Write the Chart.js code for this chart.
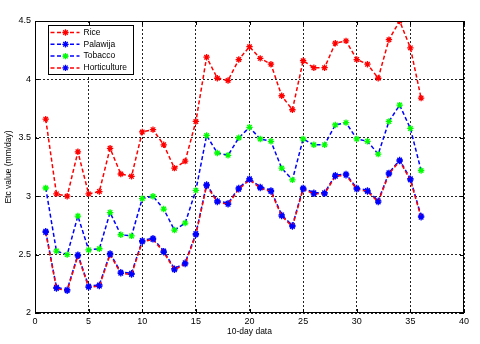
<!DOCTYPE html>
<html>
<head>
<meta charset="utf-8">
<script src="https://cdn.jsdelivr.net/npm/chart.js@4.4.0/dist/chart.umd.min.js"></script>
<style>
  body { margin: 0; background: #fff; }
  canvas { display: block; }
</style>
</head>
<body>
<canvas id="grafico" width="480" height="344"></canvas>
<script>
// Datos (10-day data)
const dias = [1, 2, 3, 4, 5, 6, 7, 8, 9, 10, 11, 12, 13, 14, 15, 16, 17, 18,
              19, 20, 21, 22, 23, 24, 25, 26, 27, 28, 29, 30, 31, 32, 33, 34, 35, 36];

const rice = [3.66, 3.02, 3.00, 3.38, 3.02, 3.04, 3.41, 3.19, 3.17, 3.55, 3.57, 3.44,
              3.24, 3.30, 3.64, 4.19, 4.01, 3.99, 4.17, 4.28, 4.18, 4.13, 3.86, 3.74,
              4.16, 4.10, 4.10, 4.31, 4.33, 4.17, 4.13, 4.01, 4.34, 4.50, 4.27, 3.84];

const palawija = [2.70, 2.22, 2.20, 2.50, 2.23, 2.24, 2.51, 2.35, 2.34, 2.62, 2.64, 2.53,
                  2.38, 2.43, 2.68, 3.10, 2.96, 2.94, 3.07, 3.15, 3.08, 3.05, 2.84, 2.75,
                  3.07, 3.03, 3.03, 3.18, 3.19, 3.07, 3.05, 2.96, 3.20, 3.31, 3.15, 2.83];

const tobacco = [3.07, 2.53, 2.50, 2.83, 2.54, 2.55, 2.86, 2.67, 2.66, 2.98, 3.00, 2.89,
                 2.71, 2.77, 3.05, 3.52, 3.37, 3.35, 3.50, 3.59, 3.49, 3.47, 3.24, 3.14,
                 3.49, 3.44, 3.44, 3.61, 3.63, 3.49, 3.47, 3.36, 3.64, 3.78, 3.58, 3.22];

const horticulture = [2.69, 2.21, 2.19, 2.49, 2.22, 2.23, 2.50, 2.34, 2.33, 2.61, 2.63, 2.52,
                      2.37, 2.42, 2.67, 3.09, 2.95, 2.93, 3.06, 3.14, 3.07, 3.04, 2.83, 2.74,
                      3.06, 3.02, 3.02, 3.17, 3.18, 3.06, 3.04, 2.95, 3.19, 3.30, 3.14, 2.82];

const xTicks = [0, 5, 10, 15, 20, 25, 30, 35, 40];
const yTicks = [2, 2.5, 3, 3.5, 4, 4.5];

const FUENTE = 'Liberation Sans, Arial, sans-serif';

// Series: nombre, valores, color de linea, color de marcador, orden de dibujo
const series = [
    ['Rice', rice, '#ff0000', '#ff0000', 4],
    ['Palawija', palawija, '#0000ff', '#0000ff', 3],
    ['Tobacco', tobacco, '#0000ff', '#00ff00', 2],
    ['Horticulture', horticulture, '#ff0000', '#0000ff', 1]
];

function crearDataset(s) {
    return {
        label: s[0],
        data: dias.map((d, i) => ({ x: d, y: s[1][i] })),
        borderColor: s[2],
        borderWidth: 1.5,
        borderDash: [4, 2.5],
        pointStyle: 'star',
        pointRadius: 3.2,
        pointBorderWidth: 1.3,
        pointBorderColor: s[3],
        pointBackgroundColor: s[3],
        tension: 0,
        fill: false,
        order: s[4]
    };
}

// Marcador tipo asterisco para la leyenda
function dibujarEstrella(ctx, x, y, r, color) {
    ctx.save();
    ctx.strokeStyle = color;
    ctx.lineWidth = 1.3;
    ctx.setLineDash([]);
    ctx.beginPath();
    for (let k = 0; k < 4; k++) {
        const a = k * Math.PI / 4;
        ctx.moveTo(x - r * Math.cos(a), y - r * Math.sin(a));
        ctx.lineTo(x + r * Math.cos(a), y + r * Math.sin(a));
    }
    ctx.stroke();
    ctx.restore();
}

// Marco, marcas internas y leyenda estilo MATLAB
const marcoPlugin = {
    id: 'marco',
    afterDraw(chart) {
        const ctx = chart.ctx;
        const a = chart.chartArea;
        const sx = chart.scales.x;
        const sy = chart.scales.y;
        ctx.save();
        ctx.strokeStyle = '#000';
        ctx.lineWidth = 1;
        ctx.setLineDash([]);
        ctx.strokeRect(a.left + 0.5, a.top + 0.5, a.right - a.left - 1, a.bottom - a.top - 1);

        ctx.beginPath();
        xTicks.forEach(v => {
            const px = Math.round(sx.getPixelForValue(v)) + 0.5;
            ctx.moveTo(px, a.bottom); ctx.lineTo(px, a.bottom - 4);
            ctx.moveTo(px, a.top); ctx.lineTo(px, a.top + 4);
        });
        yTicks.forEach(v => {
            const py = Math.round(sy.getPixelForValue(v)) + 0.5;
            ctx.moveTo(a.left, py); ctx.lineTo(a.left + 4, py);
            ctx.moveTo(a.right, py); ctx.lineTo(a.right - 4, py);
        });
        ctx.stroke();

        // leyenda
        const lx = a.left + 13.5, ly = a.top + 4.5, lw = 85, lh = 49;
        ctx.fillStyle = '#fff';
        ctx.fillRect(lx, ly, lw, lh);
        ctx.strokeRect(lx, ly, lw, lh);
        ctx.font = '8.5px ' + FUENTE;
        ctx.textBaseline = 'middle';
        series.forEach((s, i) => {
            const y = ly + 7 + i * 11.8;
            ctx.save();
            ctx.strokeStyle = s[2];
            ctx.lineWidth = 1.5;
            ctx.setLineDash([4, 2.5]);
            ctx.beginPath();
            ctx.moveTo(lx + 2, y);
            ctx.lineTo(lx + 31, y);
            ctx.stroke();
            ctx.restore();
            dibujarEstrella(ctx, lx + 17, y, 3.2, s[3]);
            ctx.fillStyle = '#000';
            ctx.fillText(s[0], lx + 35, y);
        });
        ctx.restore();
    }
};

function crearGrafico() {
    const ctx = document.getElementById('grafico').getContext('2d');
    return new Chart(ctx, {
        type: 'line',
        data: { datasets: series.map(crearDataset) },
        options: {
            responsive: false,
            animation: false,
            layout: { padding: { left: 0, right: 16, top: 21, bottom: 0 } },
            plugins: {
                legend: { display: false },
                tooltip: { enabled: false }
            },
            scales: {
                x: {
                    type: 'linear',
                    min: 0,
                    max: 40,
                    afterBuildTicks: scale => { scale.ticks = xTicks.map(v => ({ value: v })); },
                    afterFit: scale => { scale.height = 31; },
                    ticks: {
                        color: '#000',
                        font: { family: FUENTE, size: 9 },
                        padding: 3,
                        maxRotation: 0,
                        callback: v => String(v)
                    },
                    grid: { color: '#222', lineWidth: 1, drawTicks: false },
                    border: { display: false, dash: [2, 2] },
                    title: {
                        display: true,
                        text: '10-day data',
                        color: '#000',
                        font: { family: FUENTE, size: 8.5 },
                        padding: { top: 0, bottom: 7 }
                    }
                },
                y: {
                    min: 2,
                    max: 4.5,
                    afterBuildTicks: scale => { scale.ticks = yTicks.map(v => ({ value: v })); },
                    afterFit: scale => { scale.width = 35; },
                    ticks: {
                        color: '#000',
                        font: { family: FUENTE, size: 9 },
                        padding: 4,
                        callback: v => String(v)
                    },
                    grid: { color: '#222', lineWidth: 1, drawTicks: false },
                    border: { display: false, dash: [2, 2] },
                    title: {
                        display: true,
                        text: 'Etc value (mm/day)',
                        color: '#000',
                        font: { family: FUENTE, size: 8.5 },
                        padding: { top: 4, bottom: 0 }
                    }
                }
            }
        },
        plugins: [marcoPlugin]
    });
}

window.addEventListener('load', () => {
    crearGrafico();
});
</script>
</body>
</html>
